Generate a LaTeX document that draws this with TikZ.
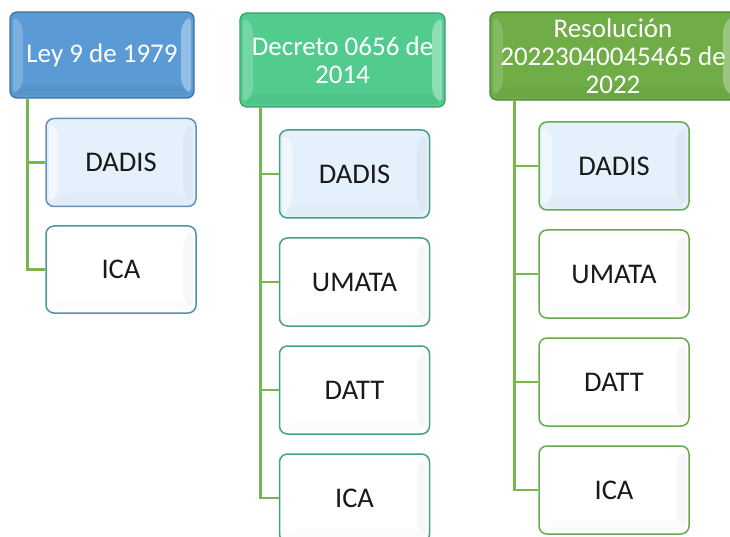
\documentclass[tikz,border=0pt]{standalone}
\usepackage{fontspec}
\setmainfont{Carlito}
\definecolor{hblue}{RGB}{91,155,213}
\definecolor{hblueD}{RGB}{65,113,160}
\definecolor{hgreen}{RGB}{82,204,142}
\definecolor{hgreenD}{RGB}{58,160,108}
\definecolor{holive}{RGB}{112,173,71}
\definecolor{holiveD}{RGB}{84,130,53}
\definecolor{lightfill}{RGB}{228,240,251}
\definecolor{bBlue}{RGB}{100,145,185}
\definecolor{bTeal1}{RGB}{75,150,165}
\definecolor{bTeal2}{RGB}{70,160,130}
\definecolor{bGreen}{RGB}{100,172,75}
\definecolor{trunkc}{RGB}{118,184,76}
\begin{document}
\begin{tikzpicture}[x=1pt,y=-1pt]
\useasboundingbox (0,0) rectangle (730,537);
\clip (0,0) rectangle (730,537);
\tikzset{
  bevel/.style n args={3}{path picture={
    \fill[#1] ([shift={(3pt,-3pt)}]path picture bounding box.north west) -- ([shift={(13pt,-13pt)}]path picture bounding box.north west) -- ([shift={(13pt,13pt)}]path picture bounding box.south west) -- ([shift={(3pt,3pt)}]path picture bounding box.south west) -- cycle;
    \fill[#2] ([shift={(-3pt,-3pt)}]path picture bounding box.north east) -- ([shift={(-13pt,-13pt)}]path picture bounding box.north east) -- ([shift={(-13pt,13pt)}]path picture bounding box.south east) -- ([shift={(-3pt,3pt)}]path picture bounding box.south east) -- cycle;
    \fill[#3] ([shift={(3pt,3pt)}]path picture bounding box.south west) -- ([shift={(13pt,13pt)}]path picture bounding box.south west) -- ([shift={(-13pt,13pt)}]path picture bounding box.south east) -- ([shift={(-3pt,3pt)}]path picture bounding box.south east) -- cycle;
  }},
  head/.style={rounded corners=7pt, line width=1.3pt, text=white, align=center,
    font=\fontsize{27}{28}\selectfont, inner sep=0pt},
  child/.style={rounded corners=8pt, line width=1.5pt, text=black!90, align=center,
    font=\fontsize{28.5}{30}\selectfont, minimum width=150pt, minimum height=88pt, inner sep=0pt},
  dadis/.style={child, fill=lightfill, bevel={white,opacity=0.5}{black,opacity=0.03}{black,opacity=0.015}},
  plain/.style={child, fill=white, bevel={white,opacity=0}{black,opacity=0.03}{black,opacity=0.01}},
  trunk/.style={draw=trunkc, line width=2.8pt},
}
% headers
\node[head, draw=hblueD, fill=hblue, minimum width=184pt, minimum height=86pt,
  bevel={white,opacity=0.2}{white,opacity=0.35}{black,opacity=0.04}] (h1) at (102,55) {Ley 9 de 1979};
\node[head, draw=hgreenD, fill=hgreen, minimum width=205pt, minimum height=94pt,
  bevel={white,opacity=0.2}{white,opacity=0.35}{black,opacity=0.04}] (h2) at (342.5,60) {Decreto 0656 de\\2014};
\node[head, draw=holiveD, fill=holive, minimum width=246pt, minimum height=88pt,
  bevel={white,opacity=0.15}{white,opacity=0.3}{black,opacity=0.04}] (h3) at (613,56) {Resolución\\20223040045465 de\\2022};
% column 1
\node[dadis, draw=bBlue] (c1a) at (121,162.5) {DADIS};
\node[plain, draw=bTeal1, minimum height=87pt] (c1b) at (121,269.5) {ICA};
% column 2
\node[dadis, draw=bTeal2!80!bTeal1] (c2a) at (354.5,174) {DADIS};
\node[plain, draw=bTeal2] (c2b) at (354.5,282) {UMATA};
\node[plain, draw=bTeal2] (c2c) at (354.5,390) {DATT};
\node[plain, draw=bTeal2] (c2d) at (354.5,498) {ICA};
% column 3
\node[dadis, draw=bGreen] (c3a) at (614,166) {DADIS};
\node[plain, draw=bGreen] (c3b) at (614,274) {UMATA};
\node[plain, draw=bGreen] (c3c) at (614,382) {DATT};
\node[plain, draw=bGreen] (c3d) at (614,490) {ICA};
% connectors
\draw[trunk] ([xshift=18pt]h1.south west) |- (c1a.west);
\draw[trunk] ([xshift=18pt]h1.south west) |- (c1b.west);
\draw[trunk] ([xshift=21pt]h2.south west) |- (c2a.west);
\draw[trunk] ([xshift=21pt]h2.south west) |- (c2b.west);
\draw[trunk] ([xshift=21pt]h2.south west) |- (c2c.west);
\draw[trunk] ([xshift=21pt]h2.south west) |- (c2d.west);
\draw[trunk] ([xshift=25pt]h3.south west) |- (c3a.west);
\draw[trunk] ([xshift=25pt]h3.south west) |- (c3b.west);
\draw[trunk] ([xshift=25pt]h3.south west) |- (c3c.west);
\draw[trunk] ([xshift=25pt]h3.south west) |- (c3d.west);
\end{tikzpicture}
\end{document}
